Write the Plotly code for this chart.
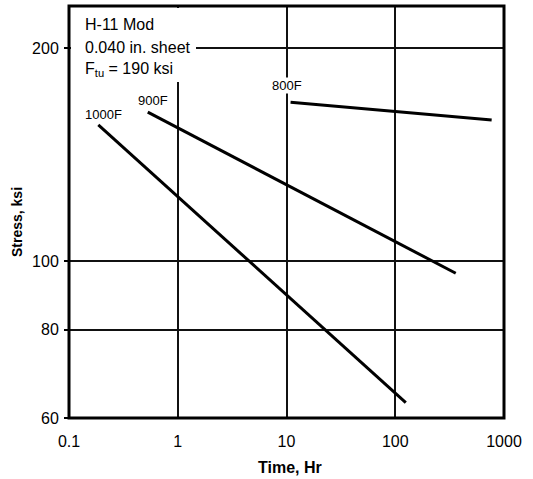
import math
import plotly.graph_objects as go

# Stress-rupture data for H-11 Mod, 0.040 in. sheet
temps = ["1000F", "900F", "800F"]
time_1000 = [0.186, 125]
stress_1000 = [155.7, 63.1]
time_900 = [0.53, 360]
stress_900 = [162.3, 96.1]
time_800 = [10.9, 770]
stress_800 = [167.6, 158.2]

x_ticks = [0.1, 1, 10, 100, 1000]
x_ticktext = ["0.1", "1", "10", "100", "1000"]
y_ticks = [60, 80, 100, 200]
y_ticktext = ["60", "80", "100", "200"]

FONT = "Liberation Sans, Arial, sans-serif"
W, H = 533, 479
ML, MR, MT, MB = 69, 29, 6, 61
PW, PH = W - ML - MR, H - MT - MB


def px(xp):
    return (xp - ML) / PW


def py(yp):
    return (H - MB - yp) / PH


fig = go.Figure()
series = [(time_1000, stress_1000), (time_900, stress_900), (time_800, stress_800)]
for name, (t, s) in zip(temps, series):
    fig.add_trace(go.Scatter(x=t, y=s, mode="lines", name=name,
                             line=dict(color="black", width=3),
                             showlegend=False, hoverinfo="skip"))

# curve labels near the start of each line
label_shift = {"1000F": (5, 10), "900F": (5, 12), "800F": (-4, 17)}
annotations = []
for name, (t, s) in zip(temps, series):
    dx, dy = label_shift[name]
    annotations.append(dict(x=math.log10(t[0]), y=math.log10(s[0]), xref="x", yref="y",
                            text=name, showarrow=False, xshift=dx, yshift=dy,
                            xanchor="center", yanchor="middle",
                            font=dict(family=FONT, size=13, color="black"),
                            bgcolor="white", borderpad=0))

# material note block
note_lines = ["H-11 Mod", "0.040 in. sheet", "F<sub>tu</sub> = 190 ksi"]
note_y = [25, 48, 69]
for txt, yy in zip(note_lines, note_y):
    annotations.append(dict(x=px(83), y=py(yy), xref="paper", yref="paper",
                            xanchor="left", yanchor="middle", text=txt,
                            showarrow=False,
                            font=dict(family=FONT, size=16, color="black")))

annotations.append(dict(x=px(290), y=py(467), xref="paper", yref="paper",
                        xanchor="center", yanchor="middle",
                        text="<b>Time, Hr</b>", showarrow=False,
                        font=dict(family=FONT, size=16, color="black")))
annotations.append(dict(x=px(17), y=py(222), xref="paper", yref="paper",
                        xanchor="center", yanchor="middle",
                        text="<b>Stress, ksi</b>", showarrow=False, textangle=-90,
                        font=dict(family=FONT, size=14, color="black")))

shapes = [
    # blank area behind the note block
    dict(type="rect", xref="paper", yref="paper", x0=px(71), x1=px(196),
         y0=py(82), y1=py(8), fillcolor="white", line=dict(width=0), layer="above"),
    # frame
    dict(type="rect", xref="paper", yref="paper", x0=0, x1=1, y0=0, y1=1,
         line=dict(color="black", width=3), layer="above"),
]

fig.update_layout(
    width=W, height=H,
    margin=dict(l=ML, r=MR, t=MT, b=MB),
    paper_bgcolor="white", plot_bgcolor="white",
    font=dict(family=FONT, size=16, color="black"),
    annotations=annotations, shapes=shapes,
)
fig.update_xaxes(type="log", range=[-1, 3], tickvals=x_ticks, ticktext=x_ticktext,
                 showgrid=True, gridcolor="#111", gridwidth=1.5, zeroline=False,
                 ticks="", showline=False, tickfont=dict(size=16),
                 ticklabelstandoff=12)
fig.update_yaxes(type="log", range=[math.log10(60), 2.3604], tickvals=y_ticks,
                 ticktext=y_ticktext, showgrid=True, gridcolor="#111", gridwidth=1.5,
                 zeroline=False, ticks="outside", ticklen=4, tickwidth=1.5,
                 tickcolor="black", showline=False, tickfont=dict(size=16),
                 ticklabelstandoff=2)

fig.write_html("out.html")
